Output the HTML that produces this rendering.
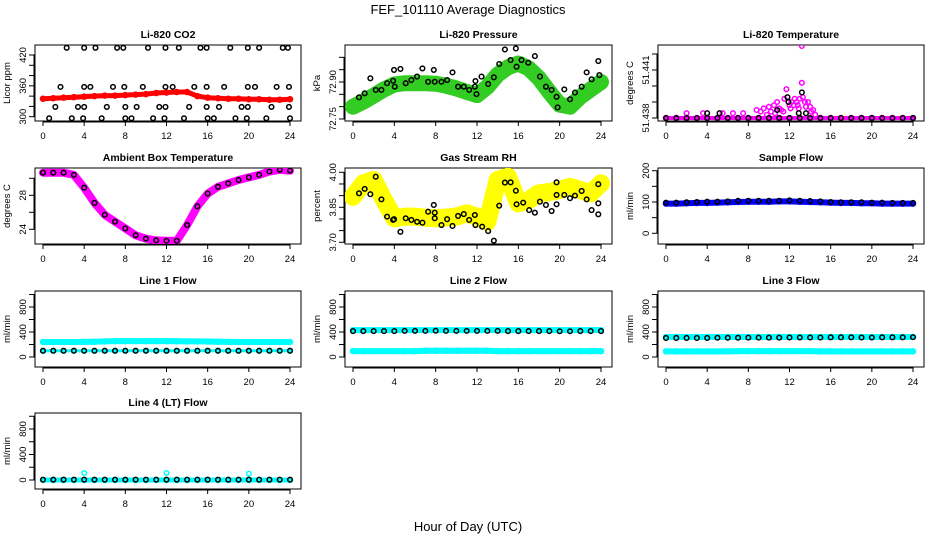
<!DOCTYPE html>
<html><head><meta charset="utf-8">
<style>
html,body{margin:0;padding:0;background:#fff;}
svg{display:block;font-family:"Liberation Sans",sans-serif;}
</style></head>
<body>
<svg id="fig" width="936" height="540" viewBox="0 0 936 540" xmlns="http://www.w3.org/2000/svg">
<rect width="936" height="540" fill="#fff"/>
<text x="468" y="14" font-size="13" text-anchor="middle">FEF_101110  Average Diagnostics</text>
<text x="468" y="531" font-size="13" text-anchor="middle">Hour of Day (UTC)</text>
</svg>
<script>
// ---- data ----
const hours = [0,1,2,3,4,5,6,7,8,9,10,11,12,13,14,15,16,17,18,19,20,21,22,23,24];
// CO2
const co2Red = [335,336,337,338,339,340,341,341,342,343,344,346,347,348,348,340,337,336,335,335,334,334,333,333,334];
const co2BlackHours = [2.3,4.0,5.1,7.2,7.8,10.2,11.9,13.2,15.3,15.9,18.2,19.9,21.0,23.3,23.8,
 1.7,4.0,4.6,6.8,7.9,9.7,11.9,12.6,14.7,15.9,17.6,19.9,20.6,22.7,23.9,
 1.2,3.4,4.0,6.2,8.0,9.1,11.3,11.9,14.2,15.9,17.1,19.3,19.9,22.2,23.9,
 0.6,2.8,3.9,5.7,8.0,8.6,10.7,11.8,13.7,16.0,16.6,18.7,19.8,21.7,24.0];
const co2BlackVals = [434,434,434,434,434,434,434,434,434,434,434,434,434,434,434,
 358,358,358,358,358,358,358,358,358,358,358,358,358,358,358,
 319,319,319,319,319,319,319,319,319,319,319,319,319,319,319,
 297,297,297,297,297,297,297,297,297,297,297,297,297,297,297];
// Pressure
const presGreen = [72.80,72.82,72.845,72.87,72.89,72.895,72.895,72.895,72.893,72.885,72.874,72.86,72.847,72.88,72.93,72.96,72.975,72.955,72.915,72.86,72.808,72.80,72.84,72.87,72.90];
const presBlackHours = [0.58,1.13,1.68,2.2,2.75,3.3,3.88,3.97,4.04,4.59,5.1,5.65,6.2,6.72,7.27,7.82,7.91,8.56,9.11,9.63,10.17,10.72,11.24,11.79,11.85,11.95,12.44,13.08,13.63,14.15,14.7,15.25,15.76,15.83,16.31,16.96,17.6,18.09,18.67,19.22,19.7,19.8,20.45,21.0,21.48,22.13,22.61,23.09,23.74,23.84];
const presBlackVals = [72.838,72.854,72.915,72.868,72.868,72.895,72.905,72.949,72.881,72.953,72.895,72.908,72.922,72.955,72.901,72.949,72.901,72.901,72.908,72.939,72.881,72.881,72.868,72.881,72.904,72.851,72.922,72.892,72.919,72.973,73.032,72.989,73.036,72.962,72.989,72.978,73.005,72.922,72.881,72.868,72.840,72.797,72.870,72.830,72.857,72.881,72.939,72.911,72.985,72.928];
// Li-820 temperature
const tempMagHours = [2,3.6,5.5,6.5,7.5,8.8,9.2,9.5,10,10.2,10.5,10.8,11,11.2,11.5,11.7,12,12.2,12.4,12.5,12.7,12.9,13,13.2,13.3,13.5,13.8,14,14.3,14.5,13.2,9.8,10.6,11.4,12.1,12.8,13.6,14.1];
const tempMagVals = [51.4383,51.4383,51.4383,51.4383,51.4383,51.4385,51.4384,51.4386,51.4387,51.4384,51.4388,51.439,51.4386,51.4385,51.4392,51.4398,51.4388,51.439,51.4388,51.4392,51.439,51.4386,51.4392,51.4402,51.4393,51.439,51.439,51.4387,51.4385,51.4382,51.4425,51.4382,51.4383,51.4384,51.4386,51.4388,51.4387,51.4384];
const tempBlackHours = [4.0,5.2,10.8,11.8,11.9,12.9,13.2,13.6];
const tempBlackVals = [51.4383,51.4383,51.4385,51.4393,51.439,51.4383,51.4396,51.4383];
const tempBase = [51.438,51.438,51.438,51.438,51.438,51.438,51.438,51.438,51.438,51.438,51.438,51.438,51.438,51.438,51.438,51.438,51.438,51.438,51.438,51.438,51.438,51.438,51.438,51.438,51.438];
// Ambient box temperature
const ambVals = [30.66,30.66,30.66,30.4,28.9,27.1,25.7,24.9,24.1,23.3,22.9,22.7,22.65,22.65,24.5,26.7,28.2,29.0,29.4,29.8,30.1,30.4,30.8,31.0,30.9];
// Gas stream RH
const rhYellow = [3.895,3.953,3.967,3.881,3.803,3.81,3.81,3.805,3.803,3.806,3.81,3.824,3.81,3.788,3.967,3.981,3.867,3.881,3.91,3.915,3.924,3.938,3.924,3.91,3.953];
const rhBlackHours = [0.58,1.13,1.68,2.2,2.75,3.3,3.88,3.97,4.59,5.1,5.65,6.2,6.72,7.27,7.82,7.91,7.91,8.56,9.11,9.63,10.17,10.72,11.24,11.79,11.85,12.5,13.08,13.63,14.15,14.7,15.25,15.76,15.83,16.47,17.05,17.6,18.09,18.67,19.22,19.7,19.7,19.7,20.45,21,21.48,22.13,22.61,23.09,23.74,23.74,23.74];
const rhBlackVals = [3.910,3.929,3.906,3.981,3.884,3.810,3.796,3.799,3.745,3.803,3.796,3.788,3.784,3.831,3.860,3.827,3.803,3.774,3.799,3.770,3.813,3.821,3.796,3.817,3.774,3.767,3.748,3.707,3.857,3.956,3.957,3.921,3.863,3.870,3.838,3.827,3.874,3.860,3.834,3.957,3.903,3.863,3.903,3.889,3.900,3.920,3.884,3.838,3.949,3.867,3.820];
// Sample flow
const sampleBlue = [95,95,96,97,97,98,99,100,101,101,101,102,102,101,100,99,98,97,97,96,96,95,95,95,95];
const sampleBlack = [98,98,99,100,101,101,102,104,104,104,104,104,105,104,103,102,100,99,99,99,98,98,97,97,97];
// Line flows
const line1Cyan = [240,240,240,240,242,245,250,255,255,255,255,255,255,252,250,250,248,245,242,240,240,240,240,240,240];
const line1Black = [100,100,100,100,100,100,100,100,100,100,100,100,100,100,100,100,100,100,100,100,100,100,100,100,100];
const line1CyanLow = [95];
const line2CyanHi = [430,430,430,430,430,430,430,430,430,430,430,430,430,430,430,430,430,430,430,430,430,430,430,430,430];
const line2CyanLo = [95,95,95,95,95,95,95,100,100,100,100,100,100,100,95,95,95,95,95,95,95,95,95,95,95];
const line2Black = [415,415,415,415,415,418,418,418,420,418,418,418,418,418,418,415,415,415,415,415,412,412,415,415,415];
const line3CyanHi = [320,320,320,320,320,320,320,320,320,320,320,320,320,320,320,320,320,320,320,320,320,320,320,320,320];
const line3CyanLo = [90,90,90,90,90,90,90,95,95,95,95,95,95,95,95,90,90,90,90,90,90,90,90,90,90];
const line3Black = [305,305,305,305,305,308,308,308,310,310,310,310,312,312,312,312,315,315,315,312,312,315,315,315,318];
const line4Cyan = [0,0,0,0,0,0,0,0,0,0,0,0,0,0,0,0,0,0,0,0,0,0,0,0,0];
const line4Black = [5,5,5,5,5,5,5,5,5,5,5,5,5,5,5,5,5,5,5,5,5,5,5,5,5];
const line4SpikeHours = [4,12,20];
const line4SpikeVals = [110,110,100];
const xTicks = [0,4,8,12,16,20,24];

// ---- layout ----
const NS = "http://www.w3.org/2000/svg";
const svg = document.getElementById('fig');
const colLeft = [35,345,658], colRight = [301,612,924];
const rowTop = [45,168,291,413], boxH = 76;
function mk(tag, attrs, parent){ const e=document.createElementNS(NS,tag); for(const k in attrs) e.setAttribute(k,attrs[k]); (parent||svg).appendChild(e); return e; }

function panel(name, col, row, title, ylab, v0, p0, v1, p1, ticks, labels){
  const g = mk('g',{});
  
  
  const L=colLeft[col], R=colRight[col], T=rowTop[row], B=T+boxH;
  const x0 = L+8, x1 = R-11;
  const sx = h => x0 + h/24*(x1-x0);
  const sy = v => p0 + (v-v0)/(v1-v0)*(p1-p0);
  const box = mk('rect',{x:L,y:T,width:R-L,height:boxH,fill:'none',stroke:'#000','stroke-width':1},g);
  
  
  const t = mk('text',{x:(L+R)/2,y:T-7,'font-size':10.5,'font-weight':'bold','text-anchor':'middle'},g);
  t.textContent = title;
  
  
  const yl = mk('text',{x:0,y:0,'font-size':9.5,'text-anchor':'middle',transform:`translate(${L-25},${T+boxH/2}) rotate(-90)`},g);
  yl.textContent = ylab;
  
  
  const xa = mk('g',{},g);
  
  
  mk('line',{x1:sx(0),x2:sx(24),y1:B+1,y2:B+1,stroke:'#000'},xa);
  xTicks.forEach(h=>{
    mk('line',{x1:sx(h),x2:sx(h),y1:B,y2:B+5,stroke:'#000'},xa);
    const tl = mk('text',{x:sx(h),y:B+18,'font-size':9.5,'text-anchor':'middle'},xa);
    tl.textContent = h;
    
    
  });
  const ya = mk('g',{},g);
  
  
  mk('line',{x1:L-1,x2:L-1,y1:sy(ticks[0]),y2:sy(ticks[ticks.length-1]),stroke:'#000'},ya);
  ticks.forEach(v=>{ mk('line',{x1:L-6,x2:L,y1:sy(v),y2:sy(v),stroke:'#000'},ya); });
  labels.forEach(v=>{
    const tl = mk('text',{x:0,y:0,'font-size':9.5,'text-anchor':'middle',transform:`translate(${L-9},${sy(v)}) rotate(-90)`},ya);
    tl.textContent = v;
    
    
  });
  const clipId = 'clip'+name;
  const cp = mk('clipPath',{id:clipId},g); mk('rect',{x:L,y:T,width:R-L,height:boxH},cp);
  const plot = mk('g',{'clip-path':`url(#${clipId})`},g);
  
  
  return {plot, sx, sy};
}
function band(P, name, hs, vs, color, width){
  const pts = hs.map((h,i)=>P.sx(h).toFixed(1)+','+P.sy(vs[i]).toFixed(1)).join(' ');
  const pl = mk('polyline',{points:pts,fill:'none',stroke:color,'stroke-width':width,'stroke-linejoin':'round','stroke-linecap':'round'},P.plot);
  
  
  hs.forEach((h,i)=>{
    const c = mk('circle',{cx:P.sx(h),cy:P.sy(vs[i]),r:2.5,fill:'none',stroke:color,'stroke-width':1.5},P.plot);
    
    
  });
}
function pts(P, name, hs, vs, color){
  hs.forEach((h,i)=>{
    const c = mk('circle',{cx:P.sx(h),cy:P.sy(vs[i]),r:2.3,fill:'none',stroke:color,'stroke-width':1.5},P.plot);
    
    
  });
}
function rng(a,b,s){ const r=[]; for(let v=a; v<=b+1e-9; v+=s) r.push(+v.toFixed(6)); return r; }

let P;
P = panel('co2',0,0,'Li-820 CO2','Licor ppm',300,116.7,420,55,rng(300,420,20),[300,360,420]);
band(P,'co2-red-series',hours,co2Red,'#ff0000',5);
pts(P,'co2-black-point',co2BlackHours,co2BlackVals,'#000');

P = panel('pressure',1,0,'Li-820 Pressure','kPa',72.75,119,72.90,82,rng(72.75,73.0,0.05),['72.75','72.90']);
band(P,'pressure-green-series',hours,presGreen,'#33cc22',16);
pts(P,'pressure-black-point',presBlackHours,presBlackVals,'#000');

P = panel('li820-temp',2,0,'Li-820 Temperature','degrees C',51.438,118,51.441,70,rng(51.438,51.442,0.001),['51.438','51.441']);
band(P,'temp-magenta-baseline',hours,tempBase,'#ff00ff',4);
pts(P,'temp-magenta-point',tempMagHours,tempMagVals,'#ff00ff');
pts(P,'temp-black-point',hours,tempBase,'#000');
pts(P,'temp-black-point',tempBlackHours,tempBlackVals,'#000');

P = panel('ambient',0,1,'Ambient Box Temperature','degrees C',24,229.3,28,195.3,[24,26,28,30],[24,28]);
band(P,'ambient-magenta-series',hours,ambVals,'#ff00ff',8);
pts(P,'ambient-black-point',hours,ambVals,'#000');

P = panel('rh',1,1,'Gas Stream RH','percent',3.70,242.3,4.00,172.3,rng(3.70,4.00,0.05),['3.70','3.85','4.00']);
band(P,'rh-yellow-series',hours,rhYellow,'#ffff00',18);
pts(P,'rh-black-point',rhBlackHours,rhBlackVals,'#000');

P = panel('sample-flow',2,1,'Sample Flow','ml/min',0,233.3,200,170.7,rng(0,200,50),[0,100,200]);
band(P,'sample-blue-series',hours,sampleBlue,'#0000ff',6);
pts(P,'sample-black-point',hours,sampleBlack,'#000');

P = panel('line1',0,2,'Line 1 Flow','ml/min',0,357,800,307,rng(0,1000,200),[0,400,800]);
band(P,'line1-cyan-series',hours,line1Cyan,'#00ffff',6);
pts(P,'line1-cyan-low-point',[0],line1CyanLow,'#00ffff');
band(P,'line1-black-series',hours,line1Black,'#00ffff',3);
pts(P,'line1-black-point',hours,line1Black,'#000');

P = panel('line2',1,2,'Line 2 Flow','ml/min',0,357,800,307,rng(0,1000,200),[0,400,800]);
band(P,'line2-cyan-high-series',hours,line2CyanHi,'#00ffff',6);
band(P,'line2-cyan-low-series',hours,line2CyanLo,'#00ffff',6);
pts(P,'line2-black-point',hours,line2Black,'#000');

P = panel('line3',2,2,'Line 3 Flow','ml/min',0,357,800,307,rng(0,1000,200),[0,400,800]);
band(P,'line3-cyan-high-series',hours,line3CyanHi,'#00ffff',6);
band(P,'line3-cyan-low-series',hours,line3CyanLo,'#00ffff',6);
pts(P,'line3-black-point',hours,line3Black,'#000');

P = panel('line4',0,3,'Line 4 (LT) Flow','ml/min',0,480,800,429,rng(0,1000,200),[0,400,800]);
band(P,'line4-cyan-series',hours,line4Cyan,'#00ffff',5);
pts(P,'line4-cyan-spike',line4SpikeHours,line4SpikeVals,'#00ffff');
pts(P,'line4-black-point',hours,line4Black,'#000');
</script>
</body></html>
